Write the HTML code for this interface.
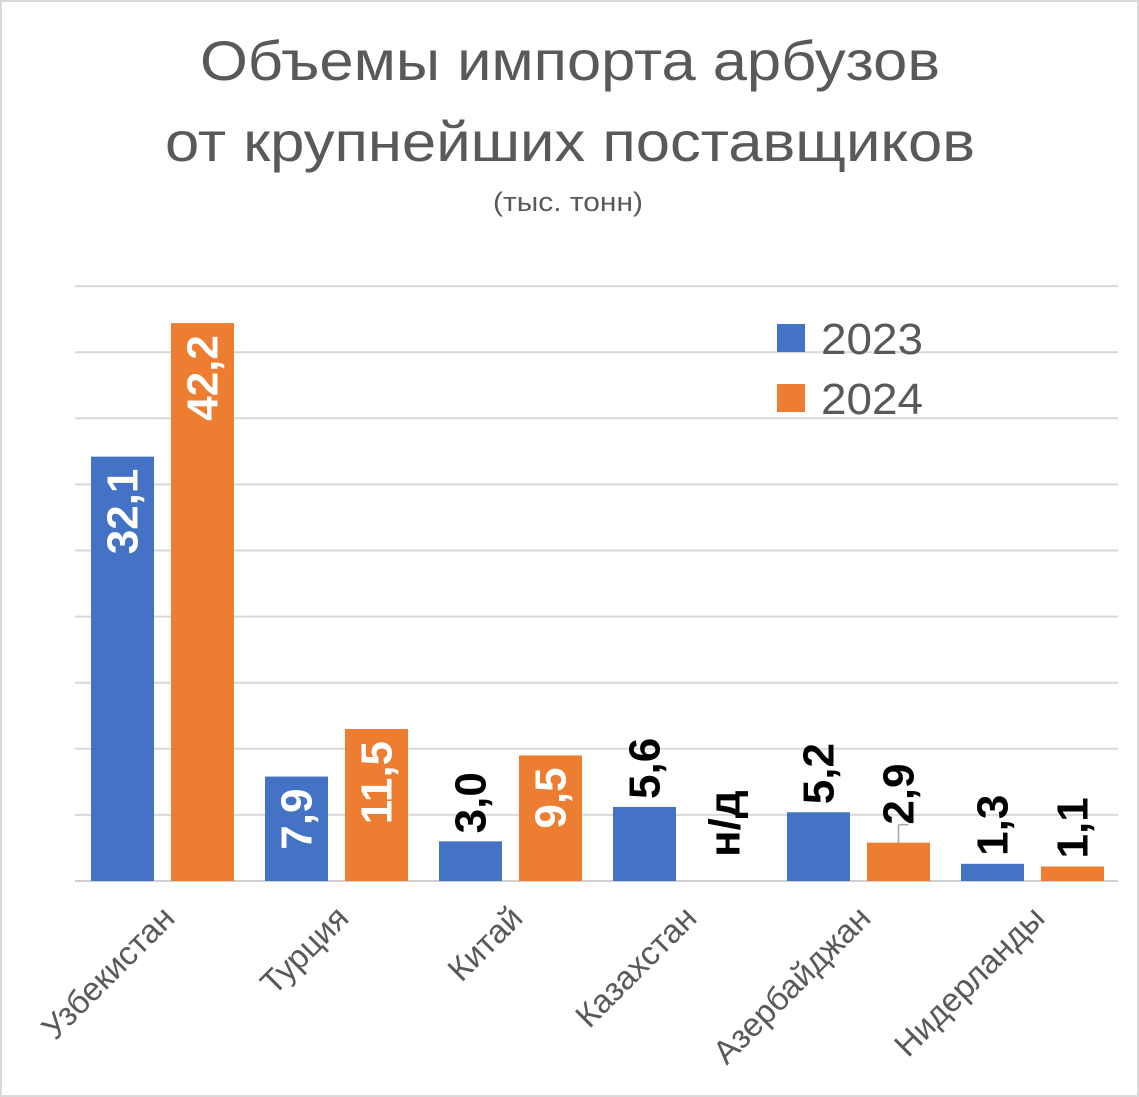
<!DOCTYPE html>
<html><head><meta charset="utf-8">
<style>
html,body{margin:0;padding:0;background:#fff;}
svg{display:block;font-family:"Liberation Sans","DejaVu Sans",sans-serif;}
</style></head>
<body>
<svg id="chart" width="1139" height="1097" viewBox="0 0 1139 1097">
<rect x="1" y="1" width="1137" height="1095" fill="#fff" stroke="#d9d9d9" stroke-width="2"/>
<text x="200" y="80" textLength="740" lengthAdjust="spacingAndGlyphs" font-size="56" fill="#595959">Объемы импорта арбузов</text>
<text x="165" y="161" textLength="810" lengthAdjust="spacingAndGlyphs" font-size="56" fill="#595959">от крупнейших поставщиков</text>
<text x="493" y="211" textLength="150" lengthAdjust="spacingAndGlyphs" font-size="27" fill="#595959">(тыс. тонн)</text>
<g id="grid"></g>
<g id="bars"></g>
<g id="labels"></g>
<g id="cats"></g>
<g>
<rect x="777" y="324" width="28" height="28" fill="#4472c4"/>
<text x="821" y="354" textLength="102" lengthAdjust="spacingAndGlyphs" font-size="44" fill="#595959">2023</text>
<rect x="777" y="384" width="28" height="28" fill="#ed7d31"/>
<text x="821" y="414" textLength="102" lengthAdjust="spacingAndGlyphs" font-size="44" fill="#595959">2024</text>
</g>
</svg>
<script>
const categories = ["Узбекистан","Турция","Китай","Казахстан","Азербайджан","Нидерланды"];
const values2023 = [32.1, 7.9, 3.0, 5.6, 5.2, 1.3];
const values2024 = [42.2, 11.5, 9.5, null, 2.9, 1.1];
const labels2023 = ["32,1","7,9","3,0","5,6","5,2","1,3"];
const labels2024 = ["42,2","11,5","9,5","н/д","2,9","1,1"];
const inside2023 = [true, true, false, false, false, false];
const inside2024 = [true, true, true, false, false, false];
const leader2024 = [false, false, false, false, true, false];
const yTicks = [0,5,10,15,20,25,30,35,40,45];

const NS="http://www.w3.org/2000/svg";
const baseY=881, pxPerUnit=13.22, left=75, right=1118;
const groupStart=91, groupStep=174, barW=63, gap=17;
const y = v => baseY - v*pxPerUnit;
function mk(tag, attrs, parent){const e=document.createElementNS(NS,tag);for(const k in attrs)e.setAttribute(k,attrs[k]);parent.appendChild(e);return e;}
const grid=document.getElementById('grid'), bars=document.getElementById('bars'), labs=document.getElementById('labels'), cats=document.getElementById('cats');

yTicks.forEach(t=>{
  const l=mk('line',{x1:left,x2:right,y1:y(t),y2:y(t),stroke:t===0?'#d0d0d0':'#d9d9d9','stroke-width':2},grid);
  
  
});

function valueLabel(cx, top, text, inside, i, s){
  let t;
  if(inside){
    t=mk('text',{x:0,y:0,transform:`translate(${cx+15},${top+12}) rotate(-90)`,'text-anchor':'end','font-size':44,'font-weight':'bold',fill:'#fff'},labs);
  } else {
    t=mk('text',{x:0,y:0,transform:`translate(${cx+15},${top-8}) rotate(-90)`,'text-anchor':'start','font-size':44,'font-weight':'bold',fill:'#000'},labs);
  }
  t.textContent=text;
  
  
}

categories.forEach((c,i)=>{
  const gx=groupStart+i*groupStep;
  [[values2023,labels2023,inside2023,'#4472c4',0,'2023'],[values2024,labels2024,inside2024,'#ed7d31',barW+gap,'2024']].forEach(([vals,lbls,ins,col,off,s])=>{
    const v=vals[i], bx=gx+off, cx=bx+barW/2;
    if(v!==null){
      const r=mk('rect',{x:bx,y:y(v),width:barW,height:baseY-y(v),fill:col},bars);
      
      
      let top=y(v);
      if(s==='2024' && leader2024[i]){
        const ln=mk('line',{x1:cx,x2:cx,y1:top,y2:top-18,stroke:'#a6a6a6','stroke-width':1.5},labs);
        
        
        const h=mk('line',{x1:cx,x2:cx+10,y1:top-18,y2:top-18,stroke:'#a6a6a6','stroke-width':1.5},labs);
        
        
        top=top-10;
      }
      valueLabel(cx, top, lbls[i], ins[i], i, s);
    } else {
      valueLabel(cx, baseY-16, lbls[i], false, i, s);
    }
  });
  const center=gx+barW+gap/2;
  const ct=mk('text',{x:0,y:0,transform:`translate(${center+14},${920}) rotate(-45)`,'text-anchor':'end','font-size':33,fill:'#595959'},cats);
  ct.textContent=c;
  
  
});
</script>
</body></html>
